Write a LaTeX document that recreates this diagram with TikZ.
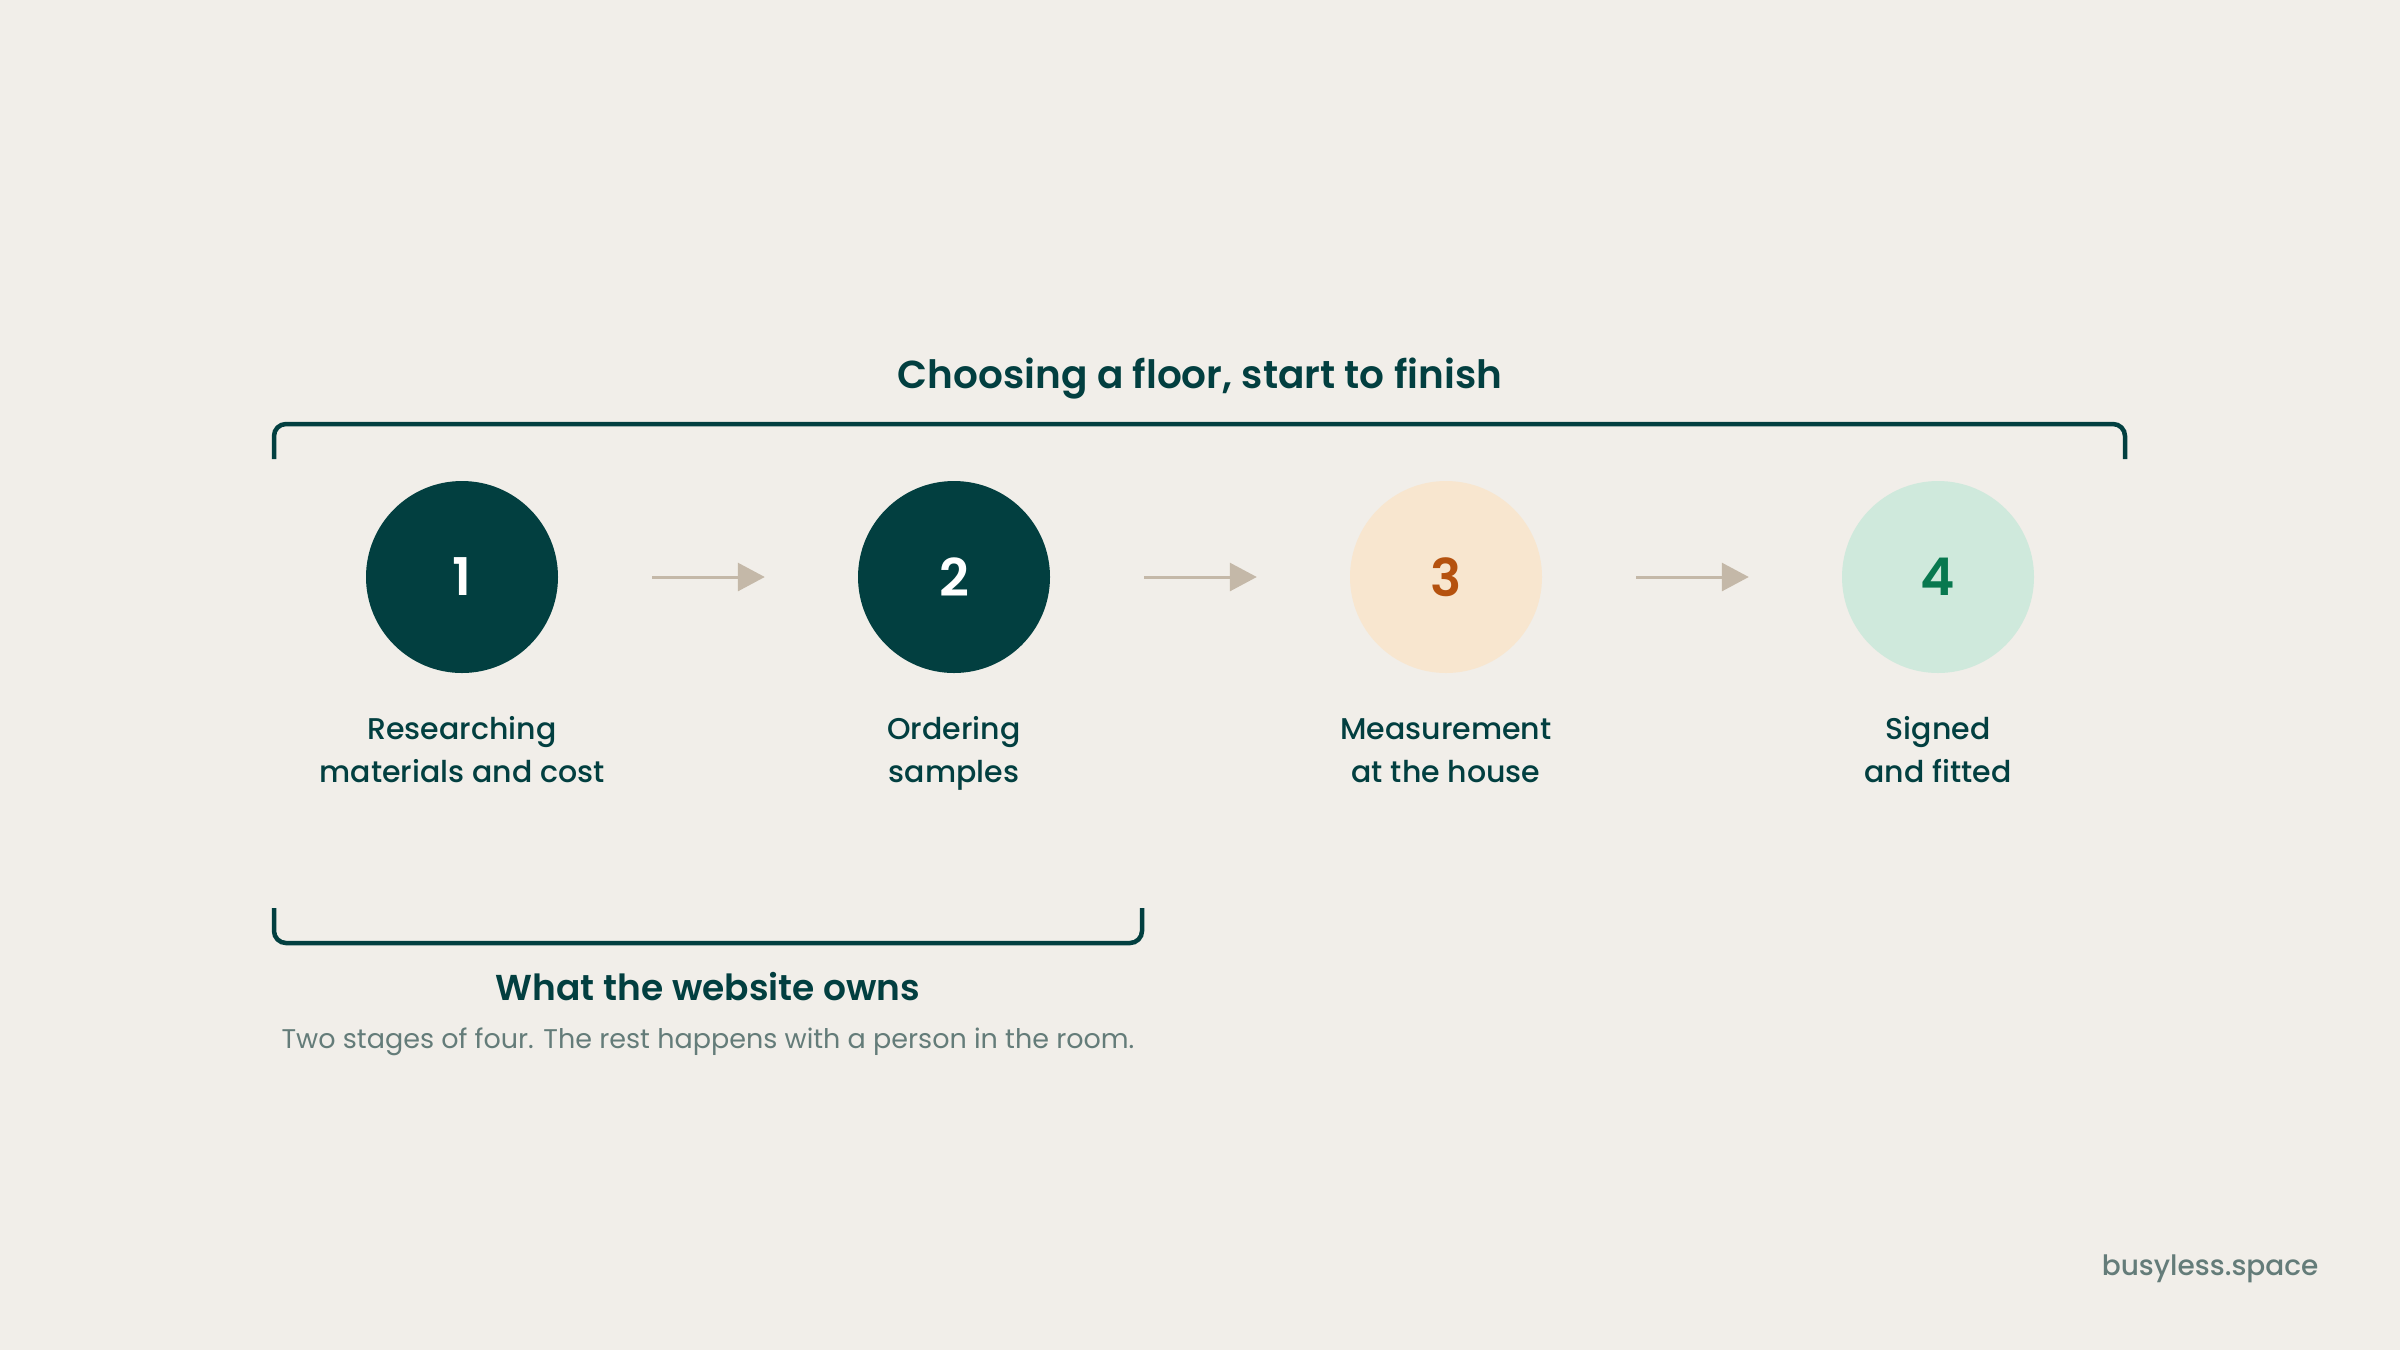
\documentclass[tikz,border=0pt]{standalone}
\usepackage{fontspec}
\setmainfont{Poppins}[BoldFont={Poppins SemiBold}]
\newfontfamily\medfont{Poppins Medium}
\usetikzlibrary{arrows.meta}
\definecolor{bg}{HTML}{F1EEE9}
\definecolor{ink}{HTML}{023F40}
\definecolor{arrowc}{HTML}{C4B8A8}
\definecolor{peach}{HTML}{F8E6CF}
\definecolor{rust}{HTML}{B5520F}
\definecolor{mint}{HTML}{CFE9DC}
\definecolor{leaf}{HTML}{08784F}
\definecolor{muted}{HTML}{647C79}
\tikzset{
  stage/.style={circle, minimum size=192pt, inner sep=0pt, font=\fontsize{52}{60}\selectfont\bfseries},
  stagelabel/.style={align=center, text=ink, text height=30pt, text depth=9pt, font=\medfont\fontsize{30}{43}\selectfont},
  flow/.style={draw=arrowc, line width=3pt, -{Triangle[length=27pt,width=28pt]}, shorten <=94pt, shorten >=93pt},
  bracket/.style={draw=ink, line width=4.5pt, rounded corners=12pt}
}
\begin{document}
\begin{tikzpicture}[x=1pt,y=-1pt]
\useasboundingbox[fill=bg] (0,0) rectangle (2400,1350);
\node[text=ink, font=\fontsize{39}{46}\selectfont\bfseries] (title) at (1200,379) {Choosing a floor, start to finish};
\draw[bracket] (274,459) -- (274,424) -- (2125,424) -- (2125,459);
\node[stage, fill=ink, text=white] (s1) at (462,577) {1};
\node[stage, fill=ink, text=white] (s2) at (954,577) {2};
\node[stage, fill=peach, text=rust] (s3) at (1446,577) {3};
\node[stage, fill=mint, text=leaf] (s4) at (1938,577) {4};
\draw[flow] (s1) -- (s2);
\draw[flow] (s2) -- (s3);
\draw[flow] (s3) -- (s4);
\node[stagelabel] (l1) at (462,772) {Researching\\materials and cost};
\node[stagelabel] (l2) at (954,772) {Ordering\\samples};
\node[stagelabel] (l3) at (1446,772) {Measurement\\at the house};
\node[stagelabel] (l4) at (1938,772) {Signed\\and fitted};
\draw[bracket] (274,908) -- (274,943) -- (1142,943) -- (1142,908);
\node[text=ink, font=\fontsize{36}{44}\selectfont\bfseries] (own) at (708,987) {What the website owns};
\node[text=muted, font=\fontsize{27}{32}\selectfont] (sub) at (708,1042) {Two stages of four. The rest happens with a person in the room.};
\node[text=muted, font=\medfont\fontsize{28}{36}\selectfont, anchor=east] (brand) at (2322,1269) {busyless.space};
\end{tikzpicture}
\end{document}
